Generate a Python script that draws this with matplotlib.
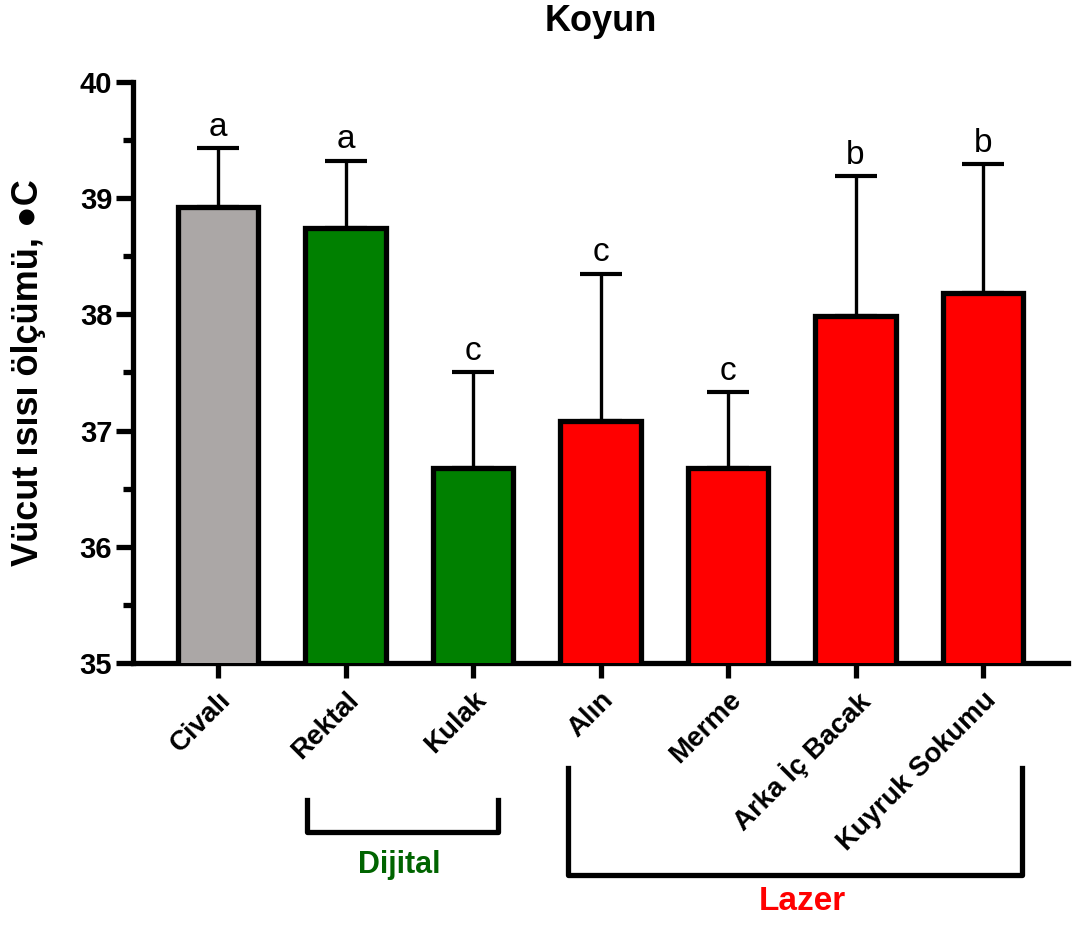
import matplotlib
matplotlib.use("Agg")
import matplotlib.pyplot as plt
import matplotlib.transforms as mtransforms
from matplotlib.ticker import MultipleLocator

plt.rcParams['font.family'] = ['Liberation Sans', 'DejaVu Sans']

groups = ["Civalı", "Rektal", "Kulak", "Alın", "Merme", "Arka İç Bacak", "Kuyruk Sokumu"]
means = [38.92, 38.74, 36.68, 37.08, 36.68, 37.99, 38.18]
upper = [39.43, 39.32, 37.50, 38.35, 37.33, 39.19, 39.29]
letters = ["a", "a", "c", "c", "c", "b", "b"]
colors = ["#aba7a6", "#008000", "#008000", "#ff0000", "#ff0000", "#ff0000", "#ff0000"]

errs = [u - m for u, m in zip(upper, means)]
x = list(range(len(groups)))

fig = plt.figure(figsize=(10.83, 9.25), dpi=100)
ax = fig.add_axes([0.1228, 0.2832, 0.8634, 0.6282])

ax.bar(x, means, width=0.63, color=colors, edgecolor="black", linewidth=3.8, zorder=3)
ax.errorbar(x, means, yerr=[[0] * len(x), errs], fmt="none", ecolor="black",
            elinewidth=2.4, capsize=15, capthick=3.0, zorder=2)

for xi, u, lab in zip(x, upper, letters):
    ax.annotate(lab, (xi, u), xytext=(0, 4), textcoords="offset points",
                ha="center", va="bottom", fontsize=24)

ax.set_ylim(35, 40)
ax.set_xlim(-0.667, 6.667)
ax.yaxis.set_major_locator(MultipleLocator(1))
ax.yaxis.set_minor_locator(MultipleLocator(0.5))
for s in ["top", "right"]:
    ax.spines[s].set_visible(False)
for s in ["left", "bottom"]:
    ax.spines[s].set_linewidth(3.8)

ax.tick_params(axis="y", which="major", length=12, width=3.8, labelsize=21, pad=3)
ax.tick_params(axis="y", which="minor", length=7, width=3.8)
ax.tick_params(axis="x", which="major", length=11, width=3.8, labelsize=20, pad=6)
ax.set_yticks([35, 36, 37, 38, 39, 40])
ax.set_yticklabels(["35", "36", "37", "38", "39", "40"], fontweight="bold")
ax.set_xticks(x)
ax.set_xticklabels(groups, rotation=45, ha="right", rotation_mode="anchor", fontweight="bold")

ax.set_ylabel("Vücut ısısı ölçümü, ●C", fontsize=26, fontweight="bold", labelpad=24)
ax.set_title("Koyun", fontsize=26, fontweight="bold", pad=37)

trans = mtransforms.blended_transform_factory(ax.transData, ax.transAxes)
ax.plot([0.698, 0.698, 2.196, 2.196], [-0.236, -0.291, -0.291, -0.236],
        color="black", lw=3.8, transform=trans, clip_on=False)
ax.text(1.42, -0.348, "Dijital", color="#006400", fontsize=22, fontweight="bold",
        ha="center", va="center", transform=trans)
ax.plot([2.745, 2.745, 6.306, 6.306], [-0.181, -0.365, -0.365, -0.181],
        color="black", lw=3.8, transform=trans, clip_on=False)
ax.text(4.58, -0.41, "Lazer", color="#ff0000", fontsize=24, fontweight="bold",
        ha="center", va="center", transform=trans)

fig.savefig("out.png", dpi=100)
